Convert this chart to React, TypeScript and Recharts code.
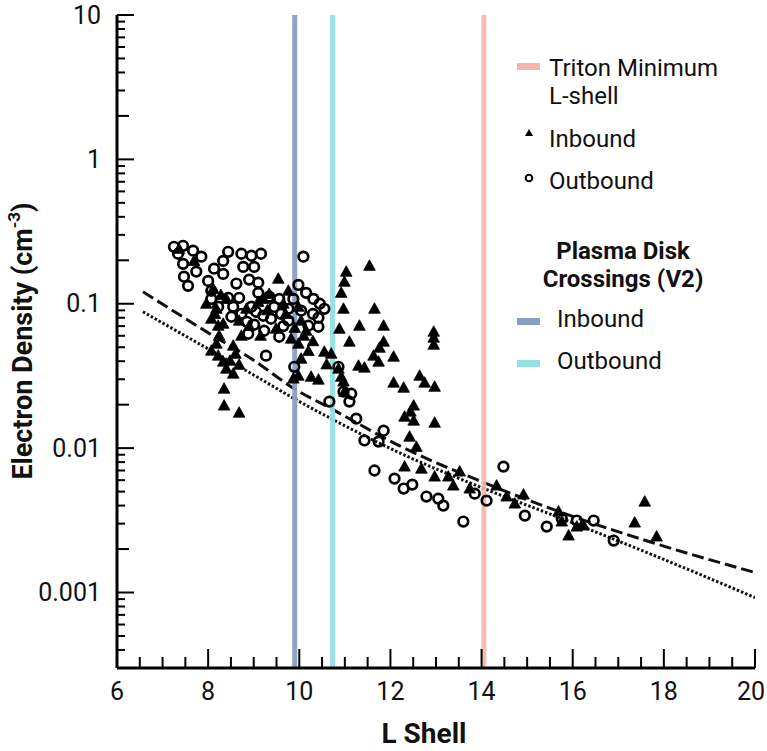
import React from "react";
import { ComposedChart, Line, ReferenceLine, Scatter, XAxis, YAxis } from "recharts";

// values: [L shell, electron density cm^-3]
const inbound: [number, number][] = [
  [9.54, 0.149], [9.76, 0.123], [9.98, 0.0953], [9.1, 0.103], [9.34, 0.117],
  [10.99, 0.142], [10.92, 0.119], [10.97, 0.0923], [10.88, 0.0671], [8.73, 0.06],
  [8.55, 0.0512], [8.22, 0.0704], [8.24, 0.06], [8.22, 0.0437], [8.33, 0.0397],
  [8.48, 0.0403], [8.68, 0.0378], [8.35, 0.0258], [8.35, 0.0197], [8.68, 0.0176],
  [10.04, 0.0416], [9.98, 0.0317], [10.26, 0.0312], [10.42, 0.0298], [10.55, 0.0465],
  [10.7, 0.0451], [10.86, 0.0355], [10.97, 0.0289], [10.99, 0.0246], [11.54, 0.183],
  [11.03, 0.1665], [11.65, 0.0923], [11.32, 0.0704], [11.85, 0.0704], [11.1, 0.0546],
  [11.85, 0.0546], [11.76, 0.0496], [12.07, 0.043], [11.63, 0.0437], [11.74, 0.0397],
  [12.95, 0.064], [12.95, 0.0582], [12.95, 0.052], [11.3, 0.0372], [11.43, 0.0361],
  [10.92, 0.0312], [12.07, 0.0284], [12.29, 0.0262], [12.64, 0.0317], [12.75, 0.0284],
  [12.97, 0.0266], [12.51, 0.0197], [12.44, 0.0179], [12.31, 0.0165], [12.51, 0.0155],
  [12.97, 0.015], [12.42, 0.012], [12.57, 0.0102], [12.31, 0.00745], [12.68, 0.00721],
  [12.97, 0.00635], [13.27, 0.00635], [13.38, 0.0055], [13.52, 0.00688], [13.74, 0.00525],
  [14.33, 0.0055], [14.55, 0.00462], [14.73, 0.00413], [14.92, 0.00477], [15.69, 0.00364],
  [15.76, 0.0031], [15.91, 0.00248], [16.09, 0.00286], [16.24, 0.00291], [17.58, 0.00426],
  [17.36, 0.00305], [17.84, 0.00244], [8.11, 0.127], [8.18, 0.0923], [8.07, 0.0787],
  [8.33, 0.0727], [8.18, 0.0529], [8.4, 0.108], [8.84, 0.0923], [8.68, 0.0763],
  [9.21, 0.108], [9.65, 0.1], [10.04, 0.0763], [10.15, 0.065], [9.82, 0.0573],
  [9.98, 0.0529], [9.49, 0.0671], [7.36, 0.24], [7.69, 0.198], [8.4, 0.0355],
  [8.55, 0.0328], [8.07, 0.0473], [9.87, 0.0303], [7.96, 0.1], [9.3, 0.09],
  [9.7, 0.085], [10.1, 0.06], [10.3, 0.055], [8.9, 0.07], [9.15, 0.06],
  [8.6, 0.045], [10.6, 0.038], [8.15, 0.085], [8.28, 0.115], [10.2, 0.047],
  [9.9, 0.068],
];

const outbound: [number, number][] = [
  [7.25, 0.248], [7.45, 0.252], [7.67, 0.233], [7.34, 0.222], [7.85, 0.212],
  [7.45, 0.189], [7.74, 0.167], [7.47, 0.154], [7.56, 0.133], [8.44, 0.229],
  [8.33, 0.198], [8.13, 0.175], [8.33, 0.161], [8.73, 0.222], [8.95, 0.215],
  [9.16, 0.222], [8.77, 0.18], [9.01, 0.18], [8.0, 0.144], [8.07, 0.123],
  [8.9, 0.147], [9.1, 0.14], [8.44, 0.11], [8.55, 0.0953], [8.68, 0.11],
  [8.22, 0.0953], [8.07, 0.108], [8.51, 0.0813], [8.73, 0.0852], [8.95, 0.0953],
  [9.21, 0.0826], [9.38, 0.0787], [9.01, 0.0716], [9.23, 0.065], [9.6, 0.0852],
  [9.56, 0.0591], [9.76, 0.0923], [9.76, 0.0763], [9.98, 0.135], [10.15, 0.119],
  [10.09, 0.212], [9.1, 0.119], [8.88, 0.062], [10.55, 0.0923], [10.42, 0.08],
  [10.42, 0.0693], [10.2, 0.0704], [9.27, 0.0437], [9.89, 0.0366], [10.66, 0.021],
  [10.86, 0.0366], [10.97, 0.0246], [11.14, 0.0238], [11.1, 0.021], [11.25, 0.016],
  [11.43, 0.0113], [11.85, 0.0132], [11.74, 0.0111], [11.65, 0.007], [12.09, 0.00615],
  [12.29, 0.00525], [12.48, 0.00559], [12.79, 0.00462], [13.05, 0.00447], [13.16, 0.004],
  [13.6, 0.0031], [13.85, 0.00484], [14.11, 0.00433], [14.48, 0.00745], [14.95, 0.00341],
  [15.43, 0.00286], [15.76, 0.00325], [16.46, 0.00315], [16.9, 0.00229], [8.62, 0.138],
  [9.34, 0.112], [9.56, 0.108], [9.87, 0.108], [10.04, 0.0895], [10.31, 0.108],
  [16.09, 0.00315], [9.45, 0.095], [9.65, 0.07], [8.85, 0.075], [9.05, 0.088],
  [10.3, 0.085], [10.45, 0.1],
];

// model curves
const dashedModel: [number, number][] = [
  [6.57, 0.121], [7.3, 0.0866], [8.07, 0.061], [8.95, 0.0416], [9.89, 0.0258],
  [10.7, 0.01876], [12.24, 0.01023], [14.0, 0.00586], [15.76, 0.00358], [17.74, 0.00222],
  [20.0, 0.001375],
];

const dottedModel: [number, number][] = [
  [6.57, 0.088], [7.3, 0.065], [8.07, 0.0473], [8.95, 0.0328], [9.89, 0.022],
  [10.7, 0.016], [12.24, 0.00916], [14.0, 0.00533], [15.76, 0.00325], [17.74, 0.00183],
  [20.0, 0.000923],
];

const tritonMinL = 14.05;
const crossingInL = 9.9;
const crossingOutL = 10.73;

const xTicks = [
  6, 6.5, 7, 7.5, 8, 8.5, 9, 9.5, 10, 10.5, 11, 11.5, 12, 12.5, 13, 13.5,
  14, 14.5, 15, 15.5, 16, 16.5, 17, 17.5, 18, 18.5, 19, 19.5, 20,
];
const yDecades = [0.001, 0.01, 0.1, 1, 10];
const yMinorMultipliers = [2, 3, 4, 5, 6, 7, 8, 9];

const yTicks: number[] = [0.0003, 0.0004, 0.0005, 0.0006, 0.0007, 0.0008, 0.0009];
yDecades.forEach((d) => {
  yTicks.push(d);
  if (d < 10) yMinorMultipliers.forEach((m) => yTicks.push(Number((m * d).toPrecision(3))));
});

const toPoints = (rows: [number, number][]) => rows.map(([L, n]) => ({ L, n }));

const PINK = "#f3b6aa";
const BLUE = "#8a9ec4";
const CYAN = "#92dfe8";
const FONT = "Roboto, sans-serif";

const isDecade = (v: number) => yDecades.some((d) => Math.abs(v - d) < d * 1e-6);
const isTwo = (v: number) => yDecades.some((d) => Math.abs(v - 2 * d) < d * 1e-6);

function BottomTick(props: any) {
  const { x, y, payload } = props;
  const v = payload.value;
  const major = v % 2 === 0;
  // the last label sits against the page edge, like the reference
  const lx = v === 20 ? x - 4 : x;
  return (
    <g>
      <line x1={x} x2={x} y1={y} y2={y - (major ? 19 : 11)} stroke="#000" strokeWidth={2} />
      {Number.isInteger(v) && v % 2 === 0 && (
        <text x={lx} y={y + 23} textAnchor="middle" dominantBaseline="central" fontSize={25} fontFamily={FONT} fill="#111">
          {v}
        </text>
      )}
    </g>
  );
}

function TopTick(props: any) {
  const { x, y, payload } = props;
  const major = payload.value % 2 === 0;
  return <line x1={x} x2={x} y1={y} y2={y + (major ? 11 : 6)} stroke="#000" strokeWidth={2} />;
}

function LeftTick(props: any) {
  const { x, y, payload } = props;
  const v = payload.value;
  const len = isDecade(v) ? 17 : isTwo(v) ? 12 : 8;
  return (
    <g>
      <line x1={x} x2={x + len} y1={y} y2={y} stroke="#000" strokeWidth={2} />
      {isDecade(v) && (
        <text x={x - 16} y={y} textAnchor="end" dominantBaseline="central" fontSize={25} fontFamily={FONT} fill="#111">
          {String(v)}
        </text>
      )}
    </g>
  );
}

function RightTick(props: any) {
  const { x, y, payload } = props;
  const v = payload.value;
  const len = isDecade(v) ? 14 : isTwo(v) ? 11 : 8;
  return <line x1={x} x2={x - len} y1={y} y2={y} stroke="#000" strokeWidth={2} />;
}

function Triangle(props: any) {
  const { cx, cy } = props;
  return <path d={`M${cx},${cy - 6} L${cx + 5.8},${cy + 4.5} L${cx - 5.8},${cy + 4.5} Z`} fill="#000" stroke="#000" strokeWidth={0.8} strokeLinejoin="round" />;
}

function Ring(props: any) {
  const { cx, cy } = props;
  return <circle cx={cx} cy={cy} r={4.8} fill="none" stroke="#000" strokeWidth={2.7} />;
}

const legendText: React.CSSProperties = {
  position: "absolute",
  fontFamily: FONT,
  fontSize: 24,
  lineHeight: "24px",
  color: "#111",
  whiteSpace: "nowrap",
};

export default function App() {
  return (
    <div style={{ position: "absolute", left: 0, top: 0, width: 767, height: 751, background: "#fff" }}>
      <ComposedChart width={767} height={751} margin={{ top: 15, right: 12, bottom: 0, left: 0 }}>
        <XAxis
          dataKey="L"
          type="number"
          domain={[6, 20]}
          ticks={xTicks}
          interval={0}
          allowDataOverflow
          height={83}
          tickSize={0}
          tickMargin={0}
          tickLine={false}
          axisLine={{ stroke: "#000", strokeWidth: 3 }}
          tick={<BottomTick />}
          label={{
            content: () => (
              <text x={424} y={733} textAnchor="middle" dominantBaseline="central" fontSize={28} fontWeight={700} fontFamily={FONT} fill="#111">
                L Shell
              </text>
            ),
          }}
        />
        <XAxis
          xAxisId="top"
          orientation="top"
          type="number"
          domain={[6, 20]}
          ticks={xTicks}
          interval={0}
          allowDataOverflow
          height={0}
          tickSize={0}
          tickMargin={0}
          tickLine={false}
          axisLine={{ stroke: "#000", strokeWidth: 3 }}
          tick={<TopTick />}
        />
        <YAxis
          dataKey="n"
          type="number"
          scale="log"
          domain={[0.0003, 10]}
          ticks={yTicks}
          interval={0}
          allowDataOverflow
          width={117}
          tickSize={0}
          tickMargin={0}
          tickLine={false}
          axisLine={{ stroke: "#000", strokeWidth: 3 }}
          tick={<LeftTick />}
          label={{
            content: () => (
              <text
                x={23}
                y={341}
                transform="rotate(-90, 23, 341)"
                textAnchor="middle"
                dominantBaseline="central"
                fontSize={27}
                fontWeight={700}
                fontFamily={FONT}
                fill="#111"
              >
                Electron Density (cm
                <tspan dy={-9} fontSize={17}>-3</tspan>
                <tspan dy={9}>)</tspan>
              </text>
            ),
          }}
        />
        <YAxis
          yAxisId="right"
          orientation="right"
          type="number"
          scale="log"
          domain={[0.0003, 10]}
          ticks={yTicks}
          interval={0}
          allowDataOverflow
          width={0}
          tickSize={0}
          tickMargin={0}
          tickLine={false}
          axisLine={{ stroke: "#000", strokeWidth: 3 }}
          tick={<RightTick />}
        />

        <Line data={toPoints(dashedModel)} dataKey="n" type="monotone" stroke="#111" strokeWidth={3} strokeDasharray="12 5" dot={false} activeDot={false} isAnimationActive={false} />
        <Line data={toPoints(dottedModel)} dataKey="n" type="monotone" stroke="#111" strokeWidth={3} strokeDasharray="2.5 2" dot={false} activeDot={false} isAnimationActive={false} />

        <Scatter name="Outbound" data={toPoints(outbound)} dataKey="n" shape={<Ring />} isAnimationActive={false} />
        <Scatter name="Inbound" data={toPoints(inbound)} dataKey="n" shape={<Triangle />} isAnimationActive={false} />

        <ReferenceLine x={crossingInL} stroke={BLUE} strokeWidth={5} strokeOpacity={0.95} />
        <ReferenceLine x={crossingOutL} stroke={CYAN} strokeWidth={5} strokeOpacity={0.95} />
        <ReferenceLine x={tritonMinL} stroke={PINK} strokeWidth={5} strokeOpacity={0.9} />
      </ComposedChart>

      <div style={{ position: "absolute", left: 517, top: 63, width: 23, height: 7, background: PINK }} />
      <div style={{ ...legendText, left: 549, top: 56 }}>Triton Minimum</div>
      <div style={{ ...legendText, left: 549, top: 84 }}>L-shell</div>

      <svg style={{ position: "absolute", left: 520, top: 125 }} width={20} height={60}>
        <path d="M9,4 L13,11 L5,11 Z" fill="#000" />
        <circle cx={9} cy={53} r={3.3} fill="none" stroke="#000" strokeWidth={2} />
      </svg>
      <div style={{ ...legendText, left: 549, top: 127 }}>Inbound</div>
      <div style={{ ...legendText, left: 549, top: 169 }}>Outbound</div>

      <div style={{ ...legendText, left: 522, width: 202, textAlign: "center", top: 239, fontWeight: 700 }}>Plasma Disk</div>
      <div style={{ ...legendText, left: 522, width: 202, textAlign: "center", top: 267, fontWeight: 700 }}>Crossings (V2)</div>

      <div style={{ position: "absolute", left: 517, top: 318, width: 23, height: 7, background: BLUE }} />
      <div style={{ ...legendText, left: 557, top: 307 }}>Inbound</div>
      <div style={{ position: "absolute", left: 517, top: 360, width: 23, height: 7, background: CYAN }} />
      <div style={{ ...legendText, left: 557, top: 349 }}>Outbound</div>
    </div>
  );
}
